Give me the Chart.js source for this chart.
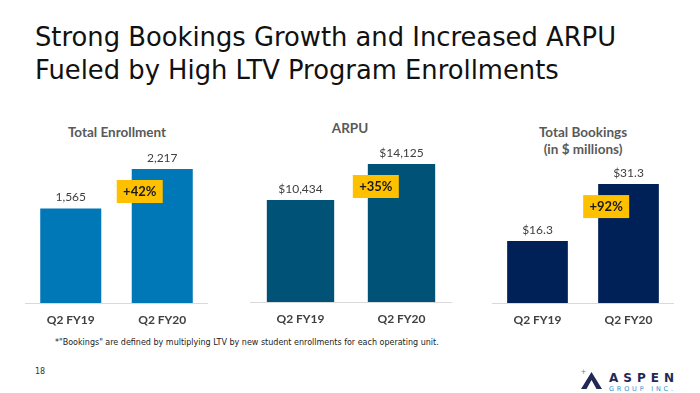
<!DOCTYPE html>
<html lang="en">
<head>
    <meta charset="UTF-8">
    <title>Strong Bookings Growth and Increased ARPU</title>
    <script src="https://cdn.jsdelivr.net/npm/chart.js"></script>
    <style>
        body {
            margin: 0;
            background: #fff;
        }
        #slide {
            position: relative;
            width: 700px;
            height: 393px;
            overflow: hidden;
            background: #fff;
        }
        #title {
            position: absolute;
            left: 35px;
            top: 21px;
            font-family: "DejaVu Sans", sans-serif;
            font-size: 25.8px;
            line-height: 33px;
            color: #111;
            white-space: nowrap;
        }
        .chartTitle {
            position: absolute;
            font-family: Lato, sans-serif;
            font-weight: bold;
            font-size: 13.5px;
            line-height: 17px;
            color: #595959;
            text-align: center;
            width: 200px;
        }
        canvas {
            position: absolute;
        }
        #note {
            position: absolute;
            left: 55px;
            top: 338px;
            font-family: "DejaVu Sans", sans-serif;
            font-size: 8px;
            line-height: 10px;
            color: #222;
            white-space: nowrap;
        }
        #page {
            position: absolute;
            left: 35px;
            top: 367px;
            font-family: "DejaVu Sans", sans-serif;
            font-size: 8px;
            line-height: 10px;
            color: #333;
        }
        #logo {
            position: absolute;
            left: 580px;
            top: 362px;
            width: 110px;
            height: 31px;
        }
        #logo .big {
            position: absolute;
            left: 29px;
            top: 9px;
            font-family: "DejaVu Sans", sans-serif;
            font-weight: bold;
            font-size: 12px;
            line-height: 14px;
            letter-spacing: 5px;
            color: #1f2a56;
        }
        #logo .small {
            position: absolute;
            left: 29px;
            top: 23px;
            font-family: "DejaVu Sans", sans-serif;
            font-size: 6.5px;
            line-height: 8px;
            letter-spacing: 2.8px;
            color: #2f8fcf;
        }
    </style>
</head>
<body>
<div id="slide">
    <div id="title">Strong Bookings Growth and Increased ARPU<br>Fueled by High LTV Program Enrollments</div>

    <div class="chartTitle" style="left:17px; top:124px;">Total Enrollment</div>
    <div class="chartTitle" style="left:250px; top:120px;">ARPU</div>
    <div class="chartTitle" style="left:483px; top:124px;">Total Bookings<br>(in $ millions)</div>

    <canvas id="enrollChart" width="183" height="190" style="left:25px; top:140px;"></canvas>
    <canvas id="arpuChart" width="202" height="189" style="left:250px; top:140px;"></canvas>
    <canvas id="bookChart" width="182" height="190" style="left:492px; top:140px;"></canvas>

    <div id="note">*"Bookings" are defined by multiplying LTV by new student enrollments for each operating unit.</div>
    <div id="page">18</div>

    <div id="logo">
        <svg width="26" height="30" style="position:absolute; left:1px; top:6px;">
            <polygon points="0,21 10.5,4 21,21 15.5,21 10.5,12 5.5,21" fill="#1f2a56"/>
            <text x="-0.5" y="6" font-size="7" fill="#2f8fcf" font-family="DejaVu Sans">+</text>
        </svg>
        <div class="big">ASPEN</div>
        <div class="small">GROUP INC.</div>
    </div>
</div>

<script>
    const categories = ['Q2 FY19', 'Q2 FY20'];
    const enrollment = [1565, 2217];
    const arpu = [10434, 14125];
    const bookings = [16.3, 31.3];
    const growth = ['+42%', '+35%', '+92%'];

    // value labels above the bars and the yellow growth badge on the second bar
    const barLabels = {
        id: 'barLabels',
        afterDatasetsDraw(chart, args, opts) {
            const ctx = chart.ctx;
            const meta = chart.getDatasetMeta(0);
            const values = chart.data.datasets[0].data;
            ctx.save();
            ctx.textAlign = 'center';
            ctx.textBaseline = 'middle';
            ctx.font = '12px Lato, sans-serif';
            ctx.fillStyle = '#404040';
            meta.data.forEach((bar, i) => {
                ctx.fillText(opts.format(values[i]), bar.x, bar.y - 11);
            });

            const last = meta.data[meta.data.length - 1];
            const bx = last.x - last.width / 2 - 15;
            const by = last.y + 11;
            ctx.fillStyle = '#FFC000';
            ctx.fillRect(bx, by, 46, 23);
            ctx.font = 'bold 13px Lato, sans-serif';
            ctx.fillStyle = '#1a1a1a';
            ctx.fillText(opts.badge, bx + 23, by + 12);
            ctx.restore();
        }
    };

    function makeChart(id, values, color, max, format, badge) {
        return new Chart(document.getElementById(id), {
            type: 'bar',
            data: {
                labels: categories,
                datasets: [{
                    data: values,
                    backgroundColor: color,
                    categoryPercentage: 1,
                    barPercentage: 0.667
                }]
            },
            options: {
                responsive: false,
                animation: false,
                layout: { padding: 0 },
                plugins: {
                    legend: { display: false },
                    tooltip: { enabled: false },
                    barLabels: { format: format, badge: badge }
                },
                scales: {
                    x: {
                        grid: { display: false, drawTicks: false },
                        border: { display: true, color: '#D9D9D9', width: 1 },
                        ticks: {
                            padding: 10,
                            color: '#404040',
                            font: { family: 'Lato, sans-serif', size: 12, weight: 'bold' }
                        },
                        afterFit: s => { s.height = 27; }
                    },
                    y: {
                        display: false,
                        min: 0,
                        max: max
                    }
                }
            },
            plugins: [barLabels]
        });
    }

    makeChart('enrollChart', enrollment, '#0077B6', 2697,
        v => v.toLocaleString('en-US'), growth[0]);
    makeChart('arpuChart', arpu, '#005377', 16582,
        v => '$' + v.toLocaleString('en-US'), growth[1]);
    makeChart('bookChart', bookings, '#002157', 42.9,
        v => '$' + v.toFixed(1), growth[2]);
</script>
</body>
</html>
